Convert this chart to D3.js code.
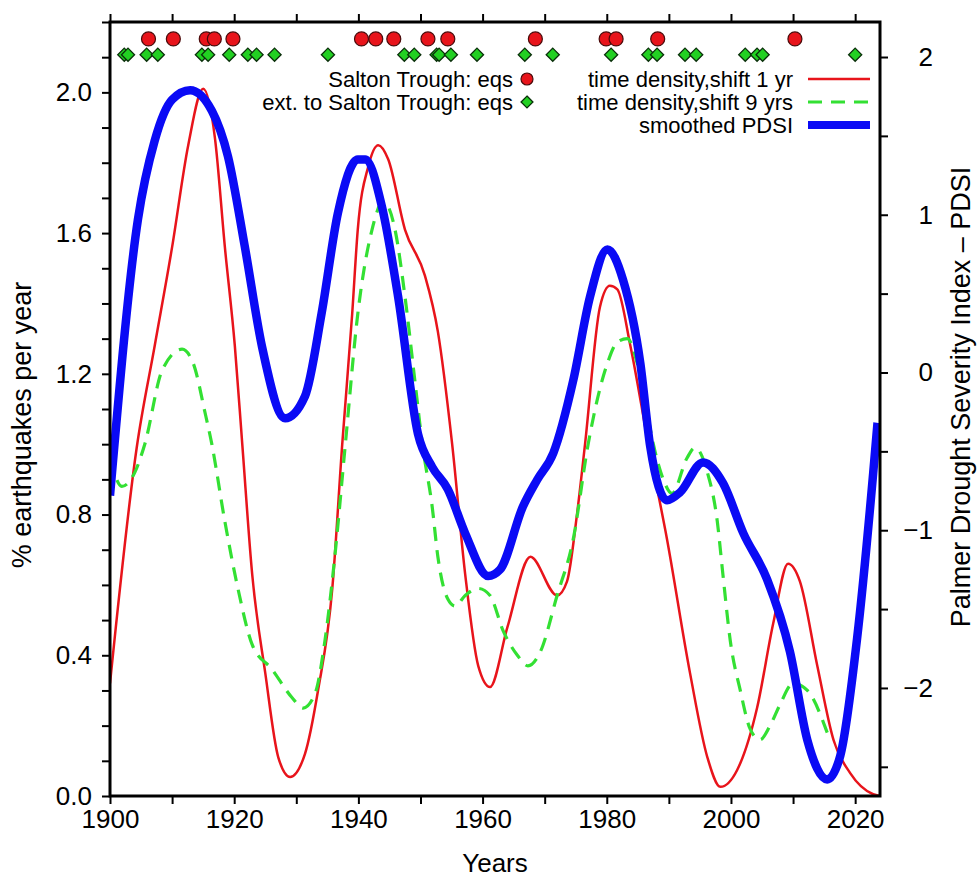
<!DOCTYPE html>
<html>
<head>
<meta charset="utf-8">
<script src="https://cdn.jsdelivr.net/npm/d3@7"></script>
<style>
  body { margin: 0; background: #fff; }
  text { font-family: "Liberation Sans", Arial, Helvetica, sans-serif; fill: #000; }
</style>
</head>
<body>
<div class="chart"></div>
<script>
var svgWidth = 979;
var svgHeight = 879;

var margin = { top: 22, right: 99, bottom: 83, left: 110 };
var width = 880 - margin.left;
var height = 796 - margin.top;

// earthquake dates (top rows of markers)
var saltonEqYears = [1906.2, 1910.2, 1915.5, 1916.8, 1919.8, 1940.5, 1942.8, 1945.7, 1951.2, 1954.4,
    1968.5, 1979.9, 1981.5, 1988.2, 2010.3];
var extEqYears = [1902.3, 1902.9, 1905.9, 1907.7, 1914.8, 1915.8, 1919.2, 1922.2, 1923.6, 1926.5,
    1935.1, 1947.4, 1949.0, 1952.6, 1953.0, 1954.9, 1959.1, 1966.8, 1971.3, 1980.7, 1986.7, 1988.1,
    1992.6, 1994.4, 2002.3, 2004.2, 2005.1, 2020.0];

// time density, shift 1 yr (red)
var shift1Years = [1900, 1904.3, 1907.2, 1910.0, 1912.6, 1915.0, 1916.9, 1918.5, 1920.1, 1921.3, 1922.9,
    1925.0, 1927.1, 1929.0, 1931.4, 1933.5, 1935.8, 1937.4, 1939.0, 1939.9, 1941.6, 1943.2, 1944.8,
    1947.5, 1950.7, 1952.8, 1955.1, 1957.2, 1959.3, 1961.2, 1964.0, 1967.7, 1972.0, 1973.6, 1975.2,
    1976.5, 1978.9, 1980.5, 1981.7, 1983.8, 1986.7, 1989.7, 1993.4, 1996.2, 1998.3, 2001.0, 2004.2,
    2006.8, 2009.2, 2011.1, 2013.9, 2016.5, 2019.2, 2022.9, 2024];
var shift1Values = [0.32, 0.99, 1.28, 1.56, 1.85, 2.01, 1.87, 1.56, 1.28, 1.00, 0.63,
    0.35, 0.11, 0.054, 0.12, 0.30, 0.59, 1.00, 1.37, 1.61, 1.79, 1.85, 1.81,
    1.61, 1.48, 1.32, 1.00, 0.63, 0.37, 0.31, 0.48, 0.68, 0.57, 0.61, 0.80,
    1.00, 1.39, 1.45, 1.44, 1.28, 1.00, 0.73, 0.35, 0.11, 0.026, 0.074, 0.25,
    0.49, 0.66, 0.61, 0.37, 0.16, 0.065, 0.005, 0.0];

// time density, shift 9 yrs (green dashed)
var shift9Years = [1900, 1901.9, 1904.0, 1905.6, 1908.4, 1911.6, 1913.4, 1915.3, 1916.4, 1918.5, 1920.6,
    1922.9, 1926.1, 1929.3, 1931.1, 1933.0, 1934.6, 1936.2, 1937.9, 1939.9, 1942.2, 1944.0, 1945.9,
    1947.5, 1949.1, 1950.3, 1951.9, 1952.8, 1954.4, 1955.6, 1957.2, 1959.3, 1961.2, 1963.3, 1965.6,
    1967.3, 1969.3, 1972.0, 1974.6, 1977.0, 1980.1, 1981.7, 1983.3, 1984.9, 1986.5, 1987.5, 1989.1,
    1990.5, 1992.9, 1994.2, 1996.2, 1997.8, 1998.7, 1999.9, 2001.5, 2003.1, 2004.7, 2006.3, 2007.9,
    2010.0, 2012.3, 2015.5];
var shift9Values = [0.96, 0.88, 0.92, 1.00, 1.21, 1.27, 1.23, 1.09, 1.00, 0.78, 0.59,
    0.43, 0.36, 0.28, 0.25, 0.29, 0.44, 0.68, 1.00, 1.37, 1.61, 1.69, 1.61,
    1.42, 1.18, 1.00, 0.82, 0.68, 0.56, 0.54, 0.57, 0.59, 0.57, 0.47, 0.40,
    0.37, 0.41, 0.57, 0.73, 1.00, 1.23, 1.29, 1.30, 1.23, 1.09, 1.00, 0.90,
    0.86, 0.96, 0.99, 0.92, 0.78, 0.63, 0.44, 0.30, 0.19, 0.16, 0.20, 0.26,
    0.32, 0.30, 0.18];

// smoothed PDSI (blue, right axis)
var pdsiYears = [1900, 1904.5, 1907.2, 1910.0, 1912.9, 1916.4, 1919.0, 1921.7, 1924.5, 1928.2, 1931.4,
    1934.1, 1936.7, 1939.9, 1941.1, 1943.8, 1946.4, 1949.6, 1951.9, 1954.4, 1957.2, 1960.9, 1962.8,
    1966.5, 1968.8, 1971.4, 1974.6, 1977.3, 1980.1, 1982.6, 1985.4, 1987.0, 1989.7, 1991.8, 1995.5,
    1998.7, 2002.0, 2005.8, 2009.5, 2012.3, 2015.5, 2017.6, 2020.3, 2022.9, 2023.6];
var pdsiValues = [-0.78, 0.97, 1.47, 1.73, 1.79, 1.66, 1.37, 0.80, 0.16, -0.29, -0.15,
    0.38, 1.01, 1.35, 1.35, 1.05, 0.48, -0.39, -0.60, -0.74, -1.02, -1.29, -1.25,
    -0.85, -0.68, -0.51, -0.05, 0.48, 0.78, 0.59, 0.06, -0.47, -0.81, -0.76, -0.57,
    -0.70, -1.02, -1.31, -1.77, -2.33, -2.58, -2.43, -1.69, -0.64, -0.32];

var xTicks = [1900, 1920, 1940, 1960, 1980, 2000, 2020];
var yLeftTicks = [0.0, 0.4, 0.8, 1.2, 1.6, 2.0];
var yRightTicks = [-2, -1, 0, 1, 2];

var eqRowValue = 2.152;   // height of marker rows, left axis units
var extRowValue = 2.107;

var svg = d3
    .select(".chart")
    .append("svg")
    .attr("width", svgWidth)
    .attr("height", svgHeight);

var chartGroup = svg.append("g")
    .attr("transform", `translate(${margin.left}, ${margin.top})`);

var xScale = d3.scaleLinear().domain([1900, 2024]).range([0, width]);
var yLeft = d3.scaleLinear().domain([0, 2.2]).range([height, 0]);
var yRight = d3.scaleLinear().domain([-2.685, 2.222]).range([height, 0]);

chartGroup.append("clipPath").attr("id", "clip")
    .append("rect").attr("width", width).attr("height", height);

// axes
function styleAxis(g) {
    g.select(".domain").remove();
    g.selectAll(".tick line").attr("stroke", "#000").attr("stroke-width", 2);
    g.selectAll(".tick text").style("font-size", "26px");
}

var bottomAxis = d3.axisBottom(xScale).tickValues(d3.range(1900, 2021, 10))
    .tickSize(8).tickPadding(6)
    .tickFormat(d => xTicks.indexOf(d) >= 0 ? d : "");
chartGroup.append("g")
    .attr("transform", `translate(0,${height})`)
    .call(bottomAxis).call(styleAxis);

var topAxis = d3.axisTop(xScale).tickValues(d3.range(1900, 2021, 10))
    .tickSize(8).tickFormat("");
chartGroup.append("g").call(topAxis).call(styleAxis);

var leftAxis = d3.axisLeft(yLeft).tickValues(d3.range(0, 2.21, 0.1))
    .tickSize(8).tickPadding(10)
    .tickFormat(d => yLeftTicks.some(t => Math.abs(t - d) < 1e-6) ? d3.format(".1f")(d) : "");
chartGroup.append("g").call(leftAxis).call(styleAxis);

var rightAxis = d3.axisRight(yRight).tickValues(d3.range(-2.5, 2.01, 0.5))
    .tickSize(8).tickPadding(9)
    .tickFormat(d => yRightTicks.indexOf(d) >= 0 ? d3.format("d")(d).replace("-", "\u2212 ") : "");
chartGroup.append("g")
    .attr("transform", `translate(${width},0)`)
    .call(rightAxis).call(styleAxis)
    .selectAll(".tick text")
    .attr("text-anchor", "end")
    .attr("x", 53);

var curves = chartGroup.append("g").attr("clip-path", "url(#clip)");

var redLine = d3.line().x(d => xScale(d[0])).y(d => yLeft(d[1])).curve(d3.curveMonotoneX);
var blueLine = d3.line().x(d => xScale(d[0])).y(d => yRight(d[1])).curve(d3.curveMonotoneX);

curves.append("path")
    .datum(d3.zip(shift1Years, shift1Values))
    .attr("d", redLine)
    .attr("fill", "none").attr("stroke", "#e8141b").attr("stroke-width", 2.5);

curves.append("path")
    .datum(d3.zip(shift9Years, shift9Values))
    .attr("d", redLine)
    .attr("fill", "none").attr("stroke", "#33e033").attr("stroke-width", 3.2)
    .attr("stroke-dasharray", "14,9");

curves.append("path")
    .datum(d3.zip(pdsiYears, pdsiValues))
    .attr("d", blueLine)
    .attr("fill", "none").attr("stroke", "#0a0af5").attr("stroke-width", 8.5)
    .attr("stroke-linejoin", "round");

// earthquake markers
var diamond = d3.symbol().type(d3.symbolDiamond2).size(110);
chartGroup.append("g").selectAll("path")
    .data(extEqYears)
    .enter()
    .append("path")
    .attr("d", diamond)
    .attr("transform", d => `translate(${xScale(d)},${yLeft(extRowValue)})`)
    .attr("fill", "#22d022").attr("stroke", "#0a300a").attr("stroke-width", 1.3);

chartGroup.append("g").selectAll("circle")
    .data(saltonEqYears)
    .enter()
    .append("circle")
    .attr("cx", d => xScale(d))
    .attr("cy", yLeft(eqRowValue))
    .attr("r", 7)
    .attr("fill", "#e8141b").attr("stroke", "#4a0a0a").attr("stroke-width", 1.2);

// frame
chartGroup.append("rect")
    .attr("width", width).attr("height", height)
    .attr("fill", "none").attr("stroke", "#000").attr("stroke-width", 3);

// legend
var legend = chartGroup.append("g").style("font-size", "22px");
var rows = [0, 23, 46].map(d => 57 + d);

legend.append("text").attr("x", 403).attr("y", rows[0] + 8).attr("text-anchor", "end").text("Salton Trough: eqs");
legend.append("circle").attr("cx", 417).attr("cy", rows[0]).attr("r", 6)
    .attr("fill", "#e8141b").attr("stroke", "#4a0a0a").attr("stroke-width", 1.2);
legend.append("text").attr("x", 403).attr("y", rows[1] + 8).attr("text-anchor", "end").text("ext. to Salton Trough: eqs");
legend.append("path").attr("d", d3.symbol().type(d3.symbolDiamond2).size(90))
    .attr("transform", `translate(417,${rows[1]})`)
    .attr("fill", "#22d022").attr("stroke", "#0a300a").attr("stroke-width", 1.3);

legend.append("text").attr("x", 683).attr("y", rows[0] + 8).attr("text-anchor", "end").text("time density,shift 1 yr");
legend.append("line").attr("x1", 698).attr("x2", 760).attr("y1", rows[0]).attr("y2", rows[0])
    .attr("stroke", "#e8141b").attr("stroke-width", 2.5);
legend.append("text").attr("x", 683).attr("y", rows[1] + 8).attr("text-anchor", "end").text("time density,shift 9 yrs");
legend.append("line").attr("x1", 698).attr("x2", 760).attr("y1", rows[1]).attr("y2", rows[1])
    .attr("stroke", "#33e033").attr("stroke-width", 3.2).attr("stroke-dasharray", "14,9");
legend.append("text").attr("x", 683).attr("y", rows[2] + 8).attr("text-anchor", "end").text("smoothed PDSI");
legend.append("line").attr("x1", 698).attr("x2", 760).attr("y1", rows[2]).attr("y2", rows[2])
    .attr("stroke", "#0a0af5").attr("stroke-width", 8);

// axis titles
svg.append("text")
    .attr("x", 495).attr("y", 872)
    .attr("text-anchor", "middle")
    .style("font-size", "26px")
    .text("Years");

svg.append("text")
    .attr("transform", "translate(31, 425) rotate(-90)")
    .attr("text-anchor", "middle")
    .style("font-size", "27px")
    .text("% earthquakes per year");

svg.append("text")
    .attr("transform", "translate(970, 397) rotate(-90)")
    .attr("text-anchor", "middle")
    .style("font-size", "27px")
    .text("Palmer Drought Severity Index \u2013 PDSI");
</script>
</body>
</html>
